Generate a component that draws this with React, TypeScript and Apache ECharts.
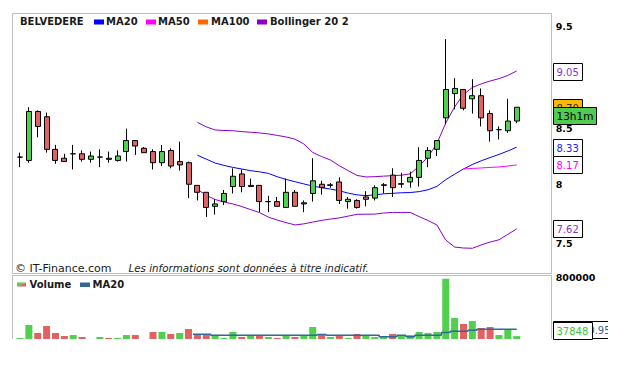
import React, { useEffect, useRef } from "react";
import * as echarts from "echarts";

const FONT = "'DejaVu Sans', Verdana, sans-serif";

// 57 trading sessions shown in 60 slots
const slots = ["1","2","3","4","5","6","7","8","9","10","11","12","13","14","15","16","17","18","19","20","21","22","23","24","25","26","27","28","29","30","31","32","33","34","35","36","37","38","39","40","41","42","43","44","45","46","47","48","49","50","51","52","53","54","55","56","57","58","59","60"];

const opens = [8.24,8.21,8.66,8.61,8.31,8.23,8.27,8.27,8.22,8.24,8.23,8.21,8.29,8.39,8.32,8.29,8.19,8.30,8.20,8.19,7.99,7.93,7.81,7.85,7.98,8.09,7.99,7.99,7.85,7.85,7.80,7.93,7.84,7.92,8.00,7.995,8.02,7.85,7.86,7.89,7.88,7.995,8.08,8.005,8.02,8.06,8.23,8.31,8.60,8.83,8.87,8.78,8.81,8.64,8.49,8.48,8.57];
const highs = [8.28,8.70,8.67,8.65,8.35,8.27,8.35,8.30,8.29,8.31,8.29,8.30,8.50,8.39,8.33,8.31,8.35,8.32,8.38,8.20,7.99,7.93,7.87,7.95,8.14,8.13,8.05,7.99,7.90,7.89,8.05,7.95,7.86,8.23,8.03,8.01,8.06,7.89,7.87,7.94,7.99,8.01,8.14,8.10,8.11,8.33,8.33,8.39,9.37,8.98,8.87,8.97,8.88,8.67,8.52,8.78,8.70];
const lows = [8.15,8.19,8.42,8.28,8.18,8.20,8.13,8.20,8.19,8.15,8.19,8.20,8.20,8.26,8.28,8.13,8.16,8.14,8.12,7.88,7.86,7.72,7.74,7.82,7.92,7.93,7.98,7.76,7.76,7.81,7.80,7.81,7.76,7.85,7.91,7.97,7.83,7.79,7.79,7.81,7.86,7.92,7.89,7.97,7.97,7.98,8.15,8.25,8.54,8.68,8.67,8.64,8.52,8.38,8.40,8.46,8.55];
const closes = [8.24,8.66,8.52,8.31,8.21,8.20,8.27,8.22,8.25,8.24,8.22,8.25,8.39,8.34,8.28,8.19,8.29,8.16,8.17,8.00,7.93,7.80,7.83,7.92,8.07,7.98,7.98,7.85,7.85,7.81,7.93,7.81,7.83,8.03,7.97,7.99,7.86,7.87,7.80,7.87,7.97,7.99,7.97,8.00,8.06,8.21,8.30,8.39,8.87,8.88,8.69,8.81,8.60,8.48,8.49,8.57,8.70];

// MA20 and Bollinger bands from session 21, MA50 from session 51
const ma20 = [8.257,8.222,8.187,8.166,8.148,8.134,8.119,8.109,8.095,8.066,8.042,8.022,8.003,7.984,7.970,7.958,7.943,7.923,7.908,7.901,7.908,7.917,7.921,7.926,7.928,7.936,7.952,7.981,8.040,8.088,8.134,8.174,8.207,8.236,8.264,8.295,8.33];
const bollUpper = [8.558,8.516,8.487,8.483,8.480,8.472,8.466,8.460,8.451,8.437,8.423,8.403,8.359,8.282,8.245,8.214,8.163,8.119,8.077,8.064,8.066,8.071,8.075,8.079,8.091,8.159,8.242,8.362,8.551,8.703,8.822,8.890,8.924,8.952,8.975,9.007,9.05];
const bollLower = [7.956,7.904,7.868,7.847,7.830,7.808,7.782,7.757,7.719,7.694,7.673,7.653,7.662,7.677,7.691,7.702,7.712,7.727,7.742,7.743,7.744,7.753,7.758,7.758,7.758,7.723,7.690,7.653,7.528,7.471,7.463,7.461,7.488,7.512,7.530,7.575,7.62];
const ma50 = [8.134,8.139,8.143,8.148,8.152,8.160,8.17];

const volumes = [13000,184000,79000,170000,79000,39000,52000,26000,0,26000,13000,13000,52000,52000,0,92000,92000,66000,79000,131000,52000,52000,39000,13000,92000,26000,39000,39000,26000,13000,52000,26000,52000,157000,66000,26000,52000,13000,66000,52000,26000,26000,66000,52000,52000,92000,79000,92000,790000,275000,197000,236000,144000,157000,52000,131000,37848];
const volumeUp = [1,1,0,0,0,0,1,0,1,1,0,1,1,0,0,0,1,0,1,0,0,0,1,1,1,0,1,0,1,0,1,0,1,1,0,1,0,1,0,1,1,1,0,1,1,1,1,1,1,1,0,1,0,0,1,1,1];
const volMa20 = [62000,62000,48000,48000,48000,48000,48000,48000,48000,48000,48000,48000,48000,48000,60000,48000,48000,48000,48000,48000,48000,31000,31000,48000,31000,48000,48000,48000,85000,101000,101000,114000,127000,127000,127000,127000,126990.95];

const priceTicks = [7.5, 8, 8.5, 9.5];
const volumeTicks = [800000];
const PRICE_MIN = 7.2548;
const PRICE_MAX = 9.6405;
const VOL_MAX = 826000;
const sessionTime = "13h1m";

const GREEN = "#4FD04F";
const RED = "#E06262";
const PURPLE = "#8A00CC";

export default function App() {
  const ref = useRef<HTMLDivElement>(null);

  useEffect(() => {
    document.body.style.margin = "0";
    const chart = echarts.init(ref.current!, null, { renderer: "svg" });
    const ln = (v: number) => Math.log(v);
    const pad = (arr: number[], start: number, f: (v: number) => number) =>
      [...new Array(start).fill("-"), ...arr.map(f)];

    const candles = opens.map((o, i) => [ln(o), ln(closes[i]), ln(lows[i]), ln(highs[i])]);
    const volBars = volumes.map((v, i) => ({ value: v, itemStyle: { color: volumeUp[i] ? GREEN : RED } }));

    const gridL = 15.565;
    const gridR = 76.26;

    const lineS = (name: string, data: any[], color: string) => ({
      name, type: "line", data, xAxisIndex: 0, yAxisIndex: 0, symbol: "none",
      lineStyle: { color, width: 1 }, itemStyle: { color }, silent: true, z: 3,
    });

    chart.setOption({
      animation: false,
      backgroundColor: "#ffffff",
      grid: [
        { left: gridL, right: gridR, top: 13, height: 261 },
        { left: gridL, right: gridR, top: 276, height: 63 },
      ],
      xAxis: [
        { type: "category", data: slots, gridIndex: 0, boundaryGap: true, show: false },
        { type: "category", data: slots, gridIndex: 1, boundaryGap: true, show: false },
      ],
      yAxis: [
        {
          type: "value", gridIndex: 0, position: "right",
          min: ln(PRICE_MIN), max: ln(PRICE_MAX),
          axisLine: { show: false }, axisTick: { show: false }, splitLine: { show: false },
          axisLabel: {
            customValues: priceTicks.map(ln),
            formatter: (v: number) => String(Math.round(Math.exp(v) * 10) / 10),
            margin: 8, color: "#000", fontWeight: "bold", fontSize: 9.5, fontFamily: FONT,
          },
        },
        {
          type: "value", gridIndex: 1, position: "right", min: 0, max: VOL_MAX,
          axisLine: { show: false }, axisTick: { show: false }, splitLine: { show: false },
          axisLabel: {
            customValues: volumeTicks,
            formatter: (v: number) => String(v),
            margin: 8, color: "#000", fontWeight: "bold", fontSize: 9.5, fontFamily: FONT,
          },
        },
      ],
      series: [
        {
          name: "BELVEDERE", type: "candlestick", data: candles, xAxisIndex: 0, yAxisIndex: 0,
          barWidth: 5.5,
          itemStyle: {
            color: GREEN, color0: RED, borderColor: "#000", borderColor0: "#000",
            borderColorDoji: "#000", borderWidth: 1,
          },
          z: 4,
        },
        lineS("MA20", pad(ma20, 20, ln), "#0000FF"),
        lineS("MA50", pad(ma50, 50, ln), "#FF00FF"),
        lineS("BollUp", pad(bollUpper, 20, ln), PURPLE),
        lineS("BollLow", pad(bollLower, 20, ln), PURPLE),
        {
          name: "Volume", type: "bar", data: volBars, xAxisIndex: 1, yAxisIndex: 1, barWidth: 7,
        },
        {
          name: "VolMA20", type: "line", data: pad(volMa20, 20, (v) => v), xAxisIndex: 1, yAxisIndex: 1,
          symbol: "none", step: "middle", lineStyle: { color: "#336699", width: 1.5 }, z: 5,
        },
      ],
    });

    const g: any[] = [];
    let zc = 100;
    const txt = (x: number, y: number, text: string, opts: any = {}) =>
      g.push({
        type: "text", x, y, z: opts.z || zc++,
        style: {
          text, fill: opts.fill || "#1a1a1a", verticalAlign: "middle", align: "left",
          font: `${opts.style || "normal"} ${opts.weight || "normal"} ${opts.size || 10}px ${FONT}`,
        },
      });
    const rect = (x: number, y: number, w: number, h: number, fill: string, stroke?: string) =>
      g.push({
        type: "rect", z: zc++, shape: { x, y, width: w, height: h },
        style: { fill, stroke: stroke || null, lineWidth: 1 },
      });

    // panel borders
    g.push({ type: "rect", z: 1, shape: { x: 12.5, y: 13.5, width: 539, height: 260 },
      style: { fill: "none", stroke: "#BDBDBD", lineWidth: 1 } });
    g.push({ type: "polyline", z: 1, shape: { points: [[12.5, 339], [12.5, 275.5], [551.5, 275.5], [551.5, 339]] },
      style: { fill: "none", stroke: "#BDBDBD", lineWidth: 1 } });

    // main legend
    txt(20, 21.7, "BELVEDERE", { weight: "bold" });
    rect(94, 19.5, 10, 5, "#0000FF");
    txt(106, 21.7, "MA20", { weight: "bold" });
    rect(146, 19.5, 10, 5, "#FF00FF");
    txt(158, 21.7, "MA50", { weight: "bold" });
    rect(198, 19.5, 10, 5, "#FF6600");
    txt(211, 21.7, "MA100", { weight: "bold" });
    rect(257, 19.5, 10, 5, PURPLE);
    txt(270, 21.7, "Bollinger 20 2", { weight: "bold" });

    // footer
    txt(15, 268, "© IT-Finance.com", { size: 11 });
    txt(128.5, 268, "Les informations sont données à titre indicatif.", { size: 10.3, style: "italic" });

    // volume legend
    g.push({ type: "polygon", z: zc++, shape: { points: [[17, 282.5], [26, 282.5], [17, 286.5]] }, style: { fill: GREEN } });
    g.push({ type: "polygon", z: zc++, shape: { points: [[26, 282.5], [26, 286.5], [17, 286.5]] }, style: { fill: RED } });
    txt(29.5, 284.7, "Volume", { weight: "bold" });
    rect(80, 282.5, 10, 4.5, "#336699");
    txt(92.5, 284.7, "MA20", { weight: "bold" });

    // value boxes on the right axis (each box drawn above the previous one)
    const py = (v: number) => chart.convertToPixel({ yAxisIndex: 0 }, ln(v)) as number;
    const vy = (v: number) => chart.convertToPixel({ yAxisIndex: 1 }, v) as number;
    const box = (y: number, text: string, color: string, bg = "#ffffff", w = 29, size = 10) => {
      const top = Math.round(y - 8.5) + 0.5;
      rect(553.5, top, w, 17, bg, "#000");
      txt(556.5, top + 8.5, text, { fill: color, size });
    };
    const last = (a: number[]) => a[a.length - 1];
    box(py(last(bollUpper)), last(bollUpper).toFixed(2), "#9030D0");
    const cy = py(last(closes));
    box(cy, last(closes).toFixed(2), "#333333", "#FFB800");
    box(cy + 8, sessionTime, "#000000", "#50CC50", 43, 10.5);
    box(py(last(ma20)), last(ma20).toFixed(2), "#2020FF");
    box(py(last(ma50)), last(ma50).toFixed(2), "#FF00FF");
    box(py(last(bollLower)), last(bollLower).toFixed(2), "#9030D0");

    const volClamp = (y: number) => Math.min(y, 339 - 8.5);
    box(volClamp(vy(last(volMa20))), last(volMa20).toFixed(2), "#336699", "#ffffff", 57);
    box(volClamp(vy(last(volumes))), String(last(volumes)), "#3CC23C", "#ffffff", 39);
    rect(608, 300, 16, 66, "#ffffff");

    chart.setOption({ graphic: g });

    return () => chart.dispose();
  }, []);

  return <div ref={ref} style={{ width: 624, height: 366 }} />;
}
